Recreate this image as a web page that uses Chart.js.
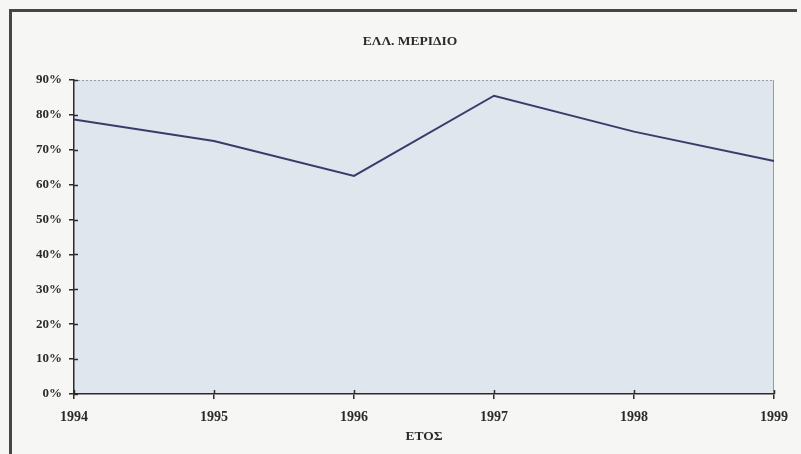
<!DOCTYPE html>
<html>
<head>
<meta charset="utf-8">
<title>ΕΛΛ. ΜΕΡΙΔΙΟ</title>
<script src="https://cdn.jsdelivr.net/npm/chart.js@4/dist/chart.umd.min.js"></script>
<style>
  html, body { margin: 0; padding: 0; background: #f6f6f4; }
  canvas { display: block; }
</style>
</head>
<body>
<canvas id="chart" width="801" height="454"></canvas>
<script>
// Years on the horizontal axis
const years = ['1994', '1995', '1996', '1997', '1998', '1999'];
// Greek share per year (fraction of 1)
const shareValues = [0.787, 0.725, 0.625, 0.855, 0.752, 0.668];
// Vertical axis range and step
const yMin = 0;
const yMax = 0.9;
const yStep = 0.1;

const chartTitle = 'ΕΛΛ. ΜΕΡΙΔΙΟ';
const xTitle = 'ΕΤΟΣ';

const serif = '"Liberation Serif", "Times New Roman", serif';
const inkColor = '#2e2a2a';

// Page frame, plot background, plot border, crossing tick marks and the title
const decorations = {
  id: 'decorations',
  beforeDraw(chart) {
    const { ctx, chartArea: a } = chart;
    ctx.save();
    ctx.fillStyle = '#f6f6f4';
    ctx.fillRect(0, 0, chart.width, chart.height);
    // frame: top and left edges
    ctx.fillStyle = '#4a4444';
    ctx.fillRect(9, 9, 788, 3);
    ctx.fillRect(9, 9, 3, chart.height - 9);
    // plot area fill
    ctx.fillStyle = '#dfe6ed';
    ctx.fillRect(a.left, a.top, a.right - a.left, a.bottom - a.top);
    // plot top edge (dotted) and right edge
    ctx.strokeStyle = '#9a9a9a';
    ctx.lineWidth = 1;
    ctx.setLineDash([2, 2]);
    ctx.beginPath();
    ctx.moveTo(a.left, a.top + 0.5);
    ctx.lineTo(a.right, a.top + 0.5);
    ctx.stroke();
    ctx.setLineDash([]);
    ctx.beginPath();
    ctx.moveTo(a.right - 0.5, a.top);
    ctx.lineTo(a.right - 0.5, a.bottom);
    ctx.stroke();
    ctx.restore();
  },
  afterDraw(chart) {
    const { ctx, chartArea: a, scales } = chart;
    ctx.save();
    ctx.strokeStyle = inkColor;
    ctx.lineWidth = 1.5;
    // inward halves of the tick marks
    scales.y.ticks.forEach((t, i) => {
      const y = Math.round(scales.y.getPixelForTick(i)) + 0.5;
      ctx.beginPath();
      ctx.moveTo(a.left, y);
      ctx.lineTo(a.left + 4, y);
      ctx.stroke();
    });
    scales.x.ticks.forEach((t, i) => {
      const x = Math.round(scales.x.getPixelForTick(i)) + 0.5;
      ctx.beginPath();
      ctx.moveTo(x, a.bottom);
      ctx.lineTo(x, a.bottom - 4);
      ctx.stroke();
    });
    // chart title
    ctx.fillStyle = inkColor;
    ctx.font = 'bold 13.5px ' + serif;
    ctx.textAlign = 'center';
    ctx.textBaseline = 'middle';
    ctx.fillText(chartTitle, 410, 42);
    ctx.restore();
  }
};

new Chart(document.getElementById('chart'), {
  type: 'line',
  data: {
    labels: years,
    datasets: [{
      data: shareValues,
      borderColor: '#3b3b6b',
      borderWidth: 2,
      pointRadius: 0,
      tension: 0,
      fill: false
    }]
  },
  options: {
    responsive: false,
    animation: false,
    devicePixelRatio: 1,
    layout: { padding: { top: 80, right: 27, bottom: 0, left: 0 } },
    plugins: {
      legend: { display: false },
      tooltip: { enabled: false },
      title: { display: false }
    },
    scales: {
      x: {
        type: 'category',
        offset: false,
        grid: { drawOnChartArea: false, drawTicks: true, tickLength: 5, color: inkColor, lineWidth: 1.5, offset: false },
        border: { display: true, color: inkColor, width: 1.5 },
        ticks: { color: inkColor, font: { family: serif, size: 14, weight: 'bold' }, padding: 10, maxRotation: 0, autoSkip: false },
        title: { display: true, text: xTitle, color: inkColor, font: { family: serif, size: 13.5, weight: 'bold' }, padding: { top: 0, bottom: 9 } },
        afterFit(scale) { scale.height = 60; }
      },
      y: {
        min: yMin,
        max: yMax,
        grid: { drawOnChartArea: false, drawTicks: true, tickLength: 5, color: inkColor, lineWidth: 1.5 },
        border: { display: true, color: inkColor, width: 1.5 },
        ticks: {
          stepSize: yStep,
          color: inkColor,
          font: { family: serif, size: 13, weight: 'bold' },
          padding: 7,
          callback: v => Math.round(v * 100) + '%'
        },
        afterFit(scale) { scale.width = 74; }
      }
    }
  },
  plugins: [decorations]
});
</script>
</body>
</html>
